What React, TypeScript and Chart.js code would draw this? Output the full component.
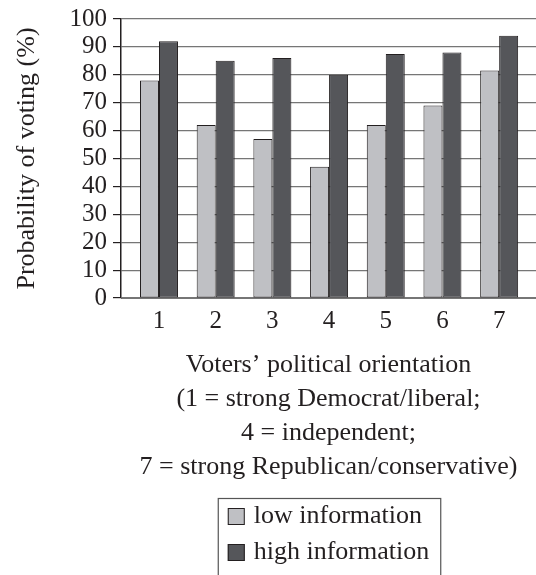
import React, { useEffect, useRef } from "react";
import { Chart, registerables } from "chart.js";

Chart.register(...registerables);

const categories = [1, 2, 3, 4, 5, 6, 7];
const lowInfo = [78, 62, 57, 47, 62, 69, 81.5];
const highInfo = [92, 85, 86, 80, 87.5, 88, 94];
const seriesLabels = ["low information", "high information"];
const yTitle = "Probability of voting (%)";
const xTitle = [
  "Voters\u2019 political orientation",
  "(1 = strong Democrat/liberal;",
  "4 = independent;",
  "7 = strong Republican/conservative)",
];

const FONT = "'Liberation Serif', 'Times New Roman', serif";
const INK = "#231f20";
const LIGHT = "#bfc0c4";
const DARK = "#55565a";
const GRID = "#767676";

const boxedLegend = {
  id: "boxedLegend",
  afterDraw(chart: any) {
    const ctx = chart.ctx;
    const area = chart.chartArea;
    const xs = chart.scales.x;
    const size = 26;
    const box = 17;
    const gap = 9;
    const rowH = 36;
    ctx.save();
    ctx.font = `${size}px ${FONT}`;
    const items = chart.data.datasets.map((d: any) => ({
      text: d.label,
      fill: d.backgroundColor,
      stroke: d.borderColor,
    }));
    const maxW = Math.max(
      ...items.map((it: any) => box + gap + ctx.measureText(it.text).width)
    );
    const cx = (area.left + area.right) / 2;
    const left = cx - maxW / 2;
    const top = xs.bottom;
    ctx.strokeStyle = "#555";
    ctx.lineWidth = 1.2;
    ctx.strokeRect(left - 9.5, top + 0.5, maxW + 21, 120);
    items.forEach((it: any, i: number) => {
      const cy = top + 18.5 + i * rowH;
      ctx.fillStyle = it.fill;
      ctx.fillRect(left, cy - box / 2, box, box);
      ctx.strokeStyle = it.stroke;
      ctx.lineWidth = 1;
      ctx.strokeRect(left + 0.5, cy - box / 2 + 0.5, box - 1, box - 1);
      ctx.fillStyle = INK;
      ctx.textAlign = "left";
      ctx.textBaseline = "middle";
      ctx.fillText(it.text, left + box + gap, cy);
    });
    ctx.restore();
  },
};

export default function App() {
  const ref = useRef<HTMLCanvasElement | null>(null);
  useEffect(() => {
    document.body.style.margin = "0";
    const canvas = ref.current;
    if (!canvas) return;
    const chart = new Chart(canvas, {
      type: "bar",
      data: {
        datasets: [
          {
            label: seriesLabels[0],
            data: categories.map((c, i) => ({ x: c, y: lowInfo[i] })),
            backgroundColor: LIGHT,
            borderColor: INK,
            borderWidth: 1,
            borderSkipped: false,
          },
          {
            label: seriesLabels[1],
            data: categories.map((c, i) => ({ x: c, y: highInfo[i] })),
            backgroundColor: DARK,
            borderColor: INK,
            borderWidth: 1,
            borderSkipped: false,
          },
        ],
      },
      options: {
        animation: false,
        responsive: false,
        devicePixelRatio: 1,
        categoryPercentage: 0.67,
        barPercentage: 1,
        layout: { padding: { top: 19, right: 0, bottom: 77, left: 0 } },
        plugins: {
          legend: { display: false },
          tooltip: { enabled: false },
        },
        scales: {
          x: {
            type: "linear",
            offset: false,
            min: 0.33,
            max: 7.65,
            afterBuildTicks: (scale: any) => {
              scale.ticks = categories.map((v) => ({ value: v }));
            },
            afterFit: (scale: any) => {
              scale.height = 200;
            },
            grid: { display: false, offset: false },
            border: { display: true, color: GRID, width: 1 },
            ticks: {
              color: INK,
              font: { family: FONT, size: 25 },
              padding: 0,
              maxRotation: 0,
              autoSkip: false,
              callback: (v: any) => String(v),
            },
            title: {
              display: true,
              text: xTitle,
              color: INK,
              font: { family: FONT, size: 26, lineHeight: 34 / 26 },
              padding: { top: 10, bottom: 14 },
            },
          },
          y: {
            min: 0,
            max: 100,
            afterFit: (scale: any) => {
              scale.width = 121;
            },
            grid: {
              color: GRID,
              lineWidth: 1.2,
              tickColor: INK,
              tickLength: 8,
            },
            border: { display: true, color: INK, width: 1.5 },
            ticks: {
              stepSize: 10,
              autoSkip: false,
              color: INK,
              font: { family: FONT, size: 25, lineHeight: 1 },
              padding: 6,
            },
            title: {
              display: true,
              text: yTitle,
              color: INK,
              font: { family: FONT, size: 26 },
              padding: { top: 12, bottom: 0 },
            },
          },
        },
      },
      plugins: [boxedLegend],
    } as any);
    return () => chart.destroy();
  }, []);
  return (
    <div style={{ width: 536, height: 575, overflow: "hidden", background: "#fff" }}>
      <canvas ref={ref} width={536} height={575} style={{ display: "block" }} />
    </div>
  );
}
